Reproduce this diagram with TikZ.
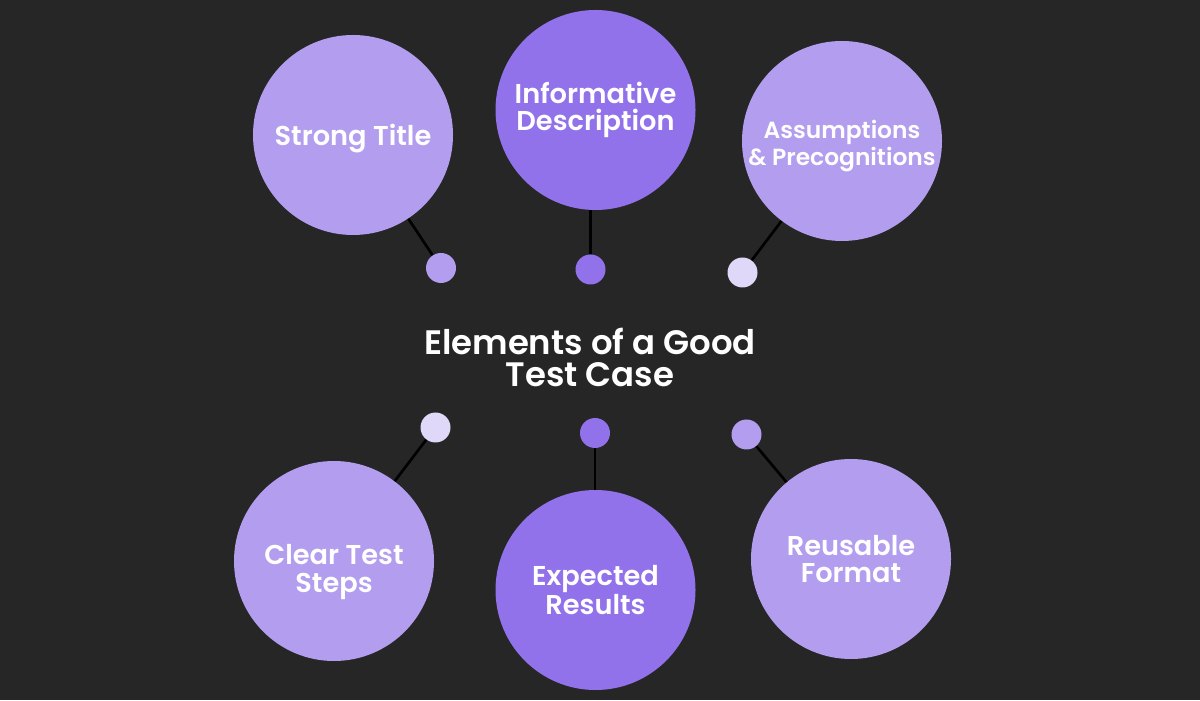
\documentclass[tikz,border=0pt]{standalone}
\usepackage{fontspec}
\setmainfont{Poppins}[BoldFont={Poppins SemiBold}]
\usepackage{tikz}
\usetikzlibrary{positioning}

\definecolor{bgdark}{HTML}{262626}
\definecolor{lilac}{HTML}{B39DEE}
\definecolor{violet}{HTML}{9272EA}
\definecolor{paleviolet}{HTML}{E0D8F8}

\tikzset{
  element/.style={circle, minimum size=4cm, inner sep=0pt, text=white,
    align=center, font=\bfseries\fontsize{15.5}{15.5}\selectfont},
  caption/.style={text=white, align=center,
    font=\bfseries\fontsize{15.5}{15.5}\selectfont},
  knob/.style={circle, minimum size=0.6cm, inner sep=0pt},
  stem/.style={line width=1.5pt, black}
}

\begin{document}
\begin{tikzpicture}

% Background
\fill[bgdark] (0,0) rectangle (24,14);
\useasboundingbox (0,0) rectangle (24,14);

% Title in the middle
\node[text=white, align=center, font=\bfseries\fontsize{19.3}{18}\selectfont]
  (title) at (11.8,6.85) {Elements of a Good\\Test Case};

% Element circles
\node[element, fill=lilac] (strong) at (7.06,11.3) {};
\node[caption, yshift=-0.08cm] at (strong) {Strong Title};
\node[element, fill=violet] (descr) at (11.91,11.8) {Informative\\Description};
\node[element, fill=lilac] (assume) at (16.84,11.18) {};
\node[caption, font=\bfseries\fontsize{13.3}{13.3}\selectfont, yshift=-0.1cm]
  at (assume) {Assumptions\\\& Precognitions};
\node[element, fill=lilac] (steps) at (6.68,2.78) {};
\node[caption, yshift=-0.22cm] at (steps) {Clear Test\\Steps};
\node[element, fill=violet] (expect) at (11.91,2.2) {Expected\\Results};
\node[element, fill=lilac] (reuse) at (17.02,2.82) {Reusable\\Format};

% Small knobs near the title
\node[knob, fill=lilac] (k1) at (8.82,8.64) {};
\node[knob, fill=violet] (k2) at (11.81,8.61) {};
\node[knob, fill=paleviolet] (k3) at (14.85,8.55) {};
\node[knob, fill=paleviolet] (k4) at (8.71,5.45) {};
\node[knob, fill=violet] (k5) at (11.9,5.34) {};
\node[knob, fill=lilac] (k6) at (14.93,5.31) {};

% Stems
\foreach \k/\c in {k1/strong, k3/assume, k4/steps, k6/reuse} {
  \draw[stem] (\k) -- (\c);
}
\draw[stem] (k2) -- (k2 |- descr.south);
\draw[stem] (k5) -- (k5 |- expect.north);

\end{tikzpicture}
\end{document}
